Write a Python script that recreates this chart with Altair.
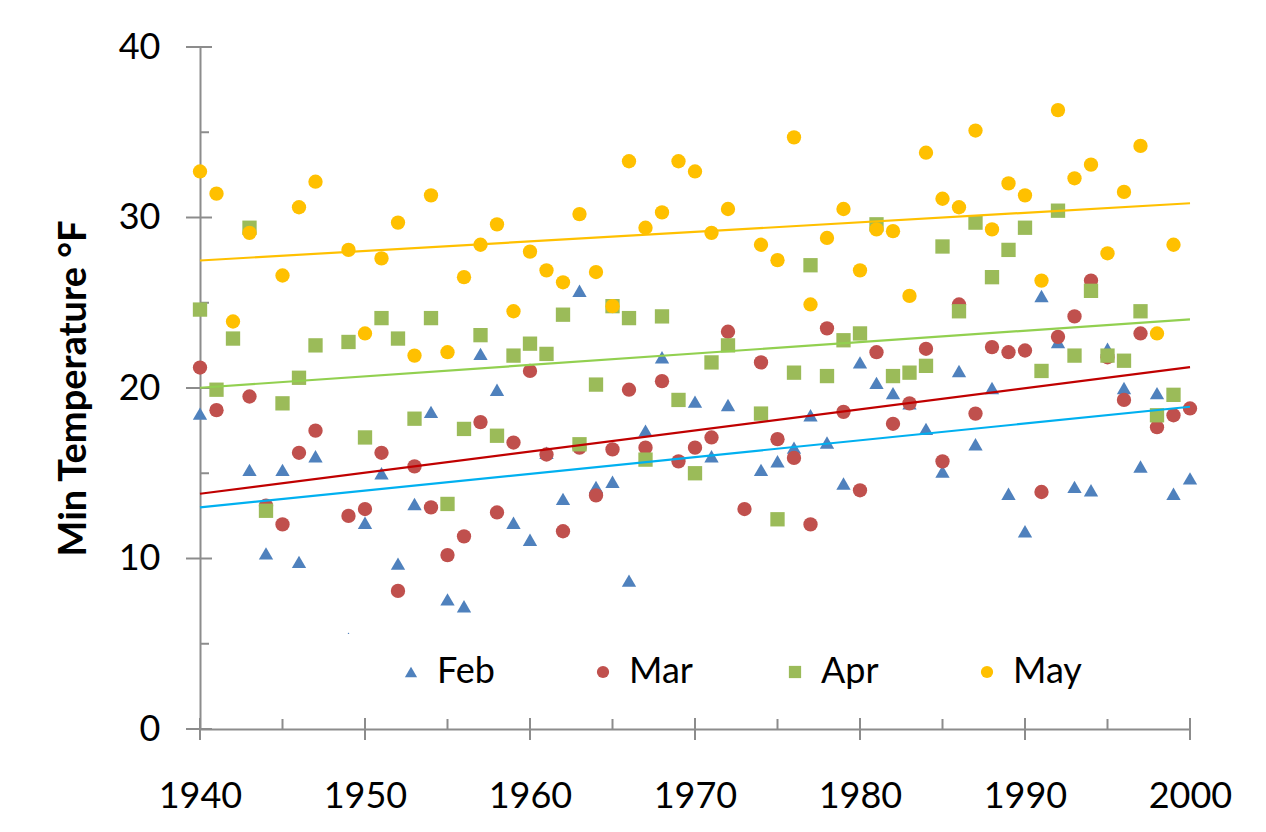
import altair as alt
import pandas as pd

years = list(range(1940, 2001))

feb = [18.5, None, None, 15.2, 10.3, 15.2, 9.8, 16.0, None, 5.3,
       12.1, 15.0, 9.7, 13.2, 18.6, 7.6, 7.2, 22.0, 19.9, 12.1,
       11.1, 16.2, 13.5, 25.7, 14.2, 14.5, 8.7, 17.5, 21.8, None,
       19.2, 16.0, 19.0, None, 15.2, 15.7, 16.5, 18.4, 16.8, 14.4,
       21.5, 20.3, 19.7, 19.1, 17.6, 15.1, 21.0, 16.7, 20.0, 13.8,
       11.6, 25.4, 22.7, 14.2, 14.0, 22.3, 20.0, 15.4, 19.7, 13.8, 14.7]

mar = [21.2, 18.7, None, 19.5, 13.1, 12.0, 16.2, 17.5, None, 12.5,
       12.9, 16.2, 8.1, 15.4, 13.0, 10.2, 11.3, 18.0, 12.7, 16.8,
       21.0, 16.1, 11.6, 16.5, 13.7, 16.4, 19.9, 16.5, 20.4, 15.7,
       16.5, 17.1, 23.3, 12.9, 21.5, 17.0, 15.9, 12.0, 23.5, 18.6,
       14.0, 22.1, 17.9, 19.1, 22.3, 15.7, 24.9, 18.5, 22.4, 22.1,
       22.2, 13.9, 23.0, 24.2, 26.3, 21.8, 19.3, 23.2, 17.7, 18.4, 18.8]

apr = [24.6, 19.9, 22.9, 29.4, 12.8, 19.1, 20.6, 22.5, None, 22.7,
       17.1, 24.1, 22.9, 18.2, 24.1, 13.2, 17.6, 23.1, 17.2, 21.9,
       22.6, 22.0, 24.3, 16.7, 20.2, 24.8, 24.1, 15.8, 24.2, 19.3,
       15.0, 21.5, 22.5, None, 18.5, 12.3, 20.9, 27.2, 20.7, 22.8,
       23.2, 29.6, 20.7, 20.9, 21.3, 28.3, 24.5, 29.7, 26.5, 28.1,
       29.4, 21.0, 30.4, 21.9, 25.7, 21.9, 21.6, 24.5, 18.4, 19.6, None]

may = [32.7, 31.4, 23.9, 29.1, None, 26.6, 30.6, 32.1, None, 28.1,
       23.2, 27.6, 29.7, 21.9, 31.3, 22.1, 26.5, 28.4, 29.6, 24.5,
       28.0, 26.9, 26.2, 30.2, 26.8, 24.8, 33.3, 29.4, 30.3, 33.3,
       32.7, 29.1, 30.5, None, 28.4, 27.5, 34.7, 24.9, 28.8, 30.5,
       26.9, 29.3, 29.2, 25.4, 33.8, 31.1, 30.6, 35.1, 29.3, 32.0,
       31.3, 26.3, 36.3, 32.3, 33.1, 27.9, 31.5, 34.2, 23.2, 28.4, None]

months = ["Feb", "Mar", "Apr", "May"]
series = [feb, mar, apr, may]
point_colors = ["#4f81bd", "#c0504d", "#9bbb59", "#ffc000"]
trend_colors = ["#00b0f0", "#c00000", "#92d050", "#ffc000"]
shapes = ["triangle-up", "circle", "square", "circle"]

y_major = [0, 10, 20, 30, 40]
y_minor = [5, 15, 25, 35]
x_major = [1940, 1950, 1960, 1970, 1980, 1990, 2000]
x_minor = [1945, 1955, 1965, 1975, 1985, 1995]

rows = []
for m, vals in zip(months, series):
    for yr, v in zip(years, vals):
        if v is not None:
            rows.append({"year": yr, "val": v, "month": m})
df = pd.DataFrame(rows)

W, H = 990, 682
FONT = "Lato"
AX = "#8c8c8c"

xs = alt.Scale(domain=[1940, 2000], nice=False, zero=False)
ys = alt.Scale(domain=[0, 40], nice=False, zero=True)

x_axis = alt.Axis(values=x_major, format="d", grid=False, ticks=False, tickSize=0,
                  domainColor=AX, domainWidth=2, labelFont=FONT, labelFontSize=36,
                  labelColor="black", labelPadding=50, labelFlush=False, title=None)
y_axis = alt.Axis(values=y_major, grid=False, ticks=False, tickSize=0,
                  domainColor=AX, domainWidth=2, labelFont=FONT, labelFontSize=36,
                  labelColor="black", labelPadding=40, labelFlush=False,
                  title="Min Temperature °F", titleFont=FONT, titleFontSize=38,
                  titleFontWeight="bold", titleColor="black", titleAngle=270,
                  titleBaseline="alphabetic", titleAlign="center",
                  titleX=-115, titleY=H / 2)

base = alt.Chart(df)

points = base.mark_point(filled=True, opacity=1, size=205).encode(
    x=alt.X("year:Q", scale=xs, axis=x_axis),
    y=alt.Y("val:Q", scale=ys, axis=y_axis),
    color=alt.Color("month:N", scale=alt.Scale(domain=months, range=point_colors),
                    legend=alt.Legend(orient="none", legendX=120, legendY=587,
                                      direction="horizontal", title=" ",
                                      titleOrient="left", titleFontSize=1,
                                      titlePadding=53, labelFont=FONT,
                                      labelFontSize=36, labelColor="black",
                                      symbolSize=150, labelOffset=8,
                                      columnPadding=79, gridAlign="all",
                                      padding=20, fillColor="white",
                                      symbolStrokeWidth=0, symbolOpacity=1)),
    shape=alt.Shape("month:N", scale=alt.Scale(domain=months, range=shapes)),
)

trend = base.transform_regression(
    "year", "val", groupby=["month"], extent=[1940, 2000]
).mark_line(strokeWidth=2.2).encode(
    x=alt.X("year:Q", scale=xs),
    y=alt.Y("val:Q", scale=ys),
    stroke=alt.Stroke("month:N", scale=alt.Scale(domain=months, range=trend_colors),
                      legend=None),
)

ymaj = alt.Chart(pd.DataFrame({"v": y_major})).mark_rule(color=AX, strokeWidth=2).encode(
    y=alt.Y("v:Q", scale=ys), x=alt.value(-14), x2=alt.value(12))
ymin = alt.Chart(pd.DataFrame({"v": y_minor})).mark_rule(color=AX, strokeWidth=2).encode(
    y=alt.Y("v:Q", scale=ys), x=alt.value(0), x2=alt.value(9))
xmaj = alt.Chart(pd.DataFrame({"v": x_major})).mark_rule(color=AX, strokeWidth=2).encode(
    x=alt.X("v:Q", scale=xs), y=alt.value(H - 11), y2=alt.value(H + 11))
xmin = alt.Chart(pd.DataFrame({"v": x_minor})).mark_rule(color=AX, strokeWidth=2).encode(
    x=alt.X("v:Q", scale=xs), y=alt.value(H - 10), y2=alt.value(H))

chart = alt.layer(ymaj, ymin, xmaj, xmin, points, trend).properties(
    width=W, height=H,
    autosize=alt.AutoSizeParams(type="none"),
    padding={"left": 192, "top": 39, "right": 68, "bottom": 89},
    background="white",
).configure_view(stroke=None)

chart.save("out.html", embed_options={"renderer": "svg", "actions": False})
